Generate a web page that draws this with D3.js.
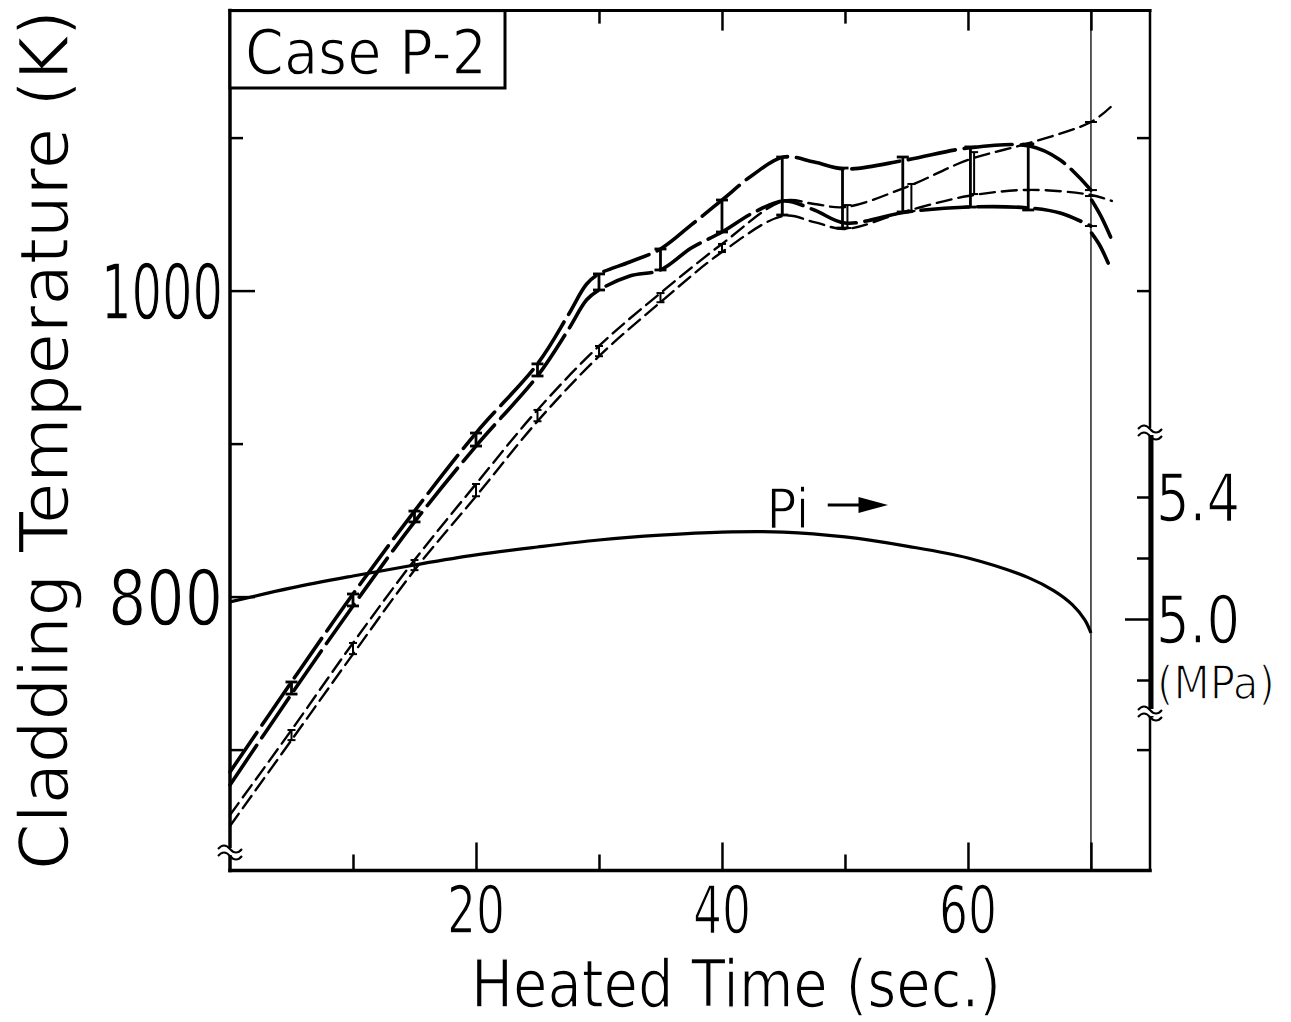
<!DOCTYPE html>
<html><head><meta charset="utf-8">
<script src="https://cdn.jsdelivr.net/npm/d3@7"></script>
<style>
html,body{margin:0;padding:0;background:#fff;}
svg{display:block;}
text{font-family:"Liberation Sans Narrow","DejaVu Sans Condensed",sans-serif;font-weight:normal;fill:#000;stroke:#fff;stroke-width:1.4px;}
</style></head><body>
<svg id="chart" width="1291" height="1022"></svg>
<script>
// ---------- data ----------
const timesAB = [0,5,10,15,20,25,27.5,29,30,32.5,35,37.5,40,42.5,45,47.5,50,55,60,65,67.5,70];
const tempA = [685.4,744.2,801.7,855.9,906.9,952.1,984.1,1004.3,1010.9,1018.7,1027.2,1042.9,1059.2,1075.6,1087.3,1084,1079.5,1085.4,1093.2,1094.5,1085.4,1065.7];
const tempB = [676.9,736.3,793.9,848.8,898.4,944.2,974.4,994,1000.4,1009.5,1013.5,1027.8,1038.3,1050.7,1058.6,1052.7,1044.2,1051.4,1054.6,1054,1050.7,1042.2];
const timesAext = [70.05,70.8,71.6];
const tempAext = [1059.2,1048.8,1035.0];
const timesBext = [70.05,70.7,71.4];
const tempBext = [1037.6,1029.8,1018.0];
const timesC = [0,5,10,15,20,25,30,35,40,45,47.5,50,55,60,65,70,71.6];
const tempC = [657.3,712.8,769.7,823.9,873.6,922,963.8,998.4,1030.5,1058.6,1056.6,1054.6,1067.7,1085.4,1096.5,1110.2,1120];
const timesD = [0,5,10,15,20,25,30,35,40,45,47.5,50,55,60,65,70,71.7];
const tempD = [650.1,706.2,762.4,817.3,865.6,914.6,957.1,992.4,1025.2,1048.8,1044.8,1040.3,1052,1061.8,1065.8,1062.5,1058.6];
const timesP = [0,5,10,15,20,25,30,35,40,45,50,55,60,65,67,68.5,69.5,70];
const pressure = [5.056,5.102,5.141,5.177,5.210,5.236,5.259,5.275,5.285,5.285,5.269,5.239,5.200,5.134,5.092,5.046,4.997,4.954];
// error bars [time, upper T, lower T]
const barsThick = [[5,744.2,736.3],[10,801.7,793.9],[15,855.9,848.8],[20,906.9,898.4],[25,952.1,944.2],[30,1010.9,1000.4],[35,1027.2,1013.5],[40,1059.2,1038.3],[44.9,1087.3,1049.4],[49.8,1080.1,1040.9],[54.7,1087.3,1051.4],[60.2,1093.9,1054.6],[64.9,1095.8,1052.7]];
const barsThin = [[5,712.8,706.2],[10,769.7,762.4],[15,823.9,817.3],[20,873.6,865.6],[25,922,914.6],[30,963.8,957.1],[35,998.4,992.4],[40,1030.5,1025.2],[44.9,1058.6,1049.4],[50.2,1055.9,1040.9],[55.4,1069.7,1052],[60.5,1090.5,1063.1]];
const endCapTime = 70;
const endCapTemps = [1110.2,1065.7,1061.8,1042.2];
const xTicksMajor = [20,40,60,70], xTicksMinor = [10,30,50];
const xTickLabels = [20,40,60];
const yTicksMajor = [800,1000], yTicksMinor = [700,900,1100];
const yTickLabels = [1000,800];
const yRightTicks = [700,1000,1100];
const pTicksMajor = [5.0], pTicksMinor = [4.8,5.2,5.4];
const pTickLabels = ["5.4","5.0"];

// ---------- scales ----------
const svg = d3.select("#chart");
const x = d3.scaleLinear().domain([0,74.8]).range([230,1150]);
const yT = d3.scaleLinear().domain([800,1000]).range([596.6,290.6]);
const yP = d3.scaleLinear().domain([5.0,5.4]).range([619,497]);
const L = x(0), R = x(74.8), T0 = yT(1183), B0 = yT(621);

// ---------- frame ----------
const frame = svg.append("g").attr("stroke","#000").attr("fill","none").attr("stroke-linecap","square");
frame.append("line").attr("x1",L).attr("x2",L).attr("y1",T0).attr("y2",B0).attr("stroke-width",3.5);
frame.append("line").attr("x1",L).attr("x2",R).attr("y1",B0).attr("y2",B0).attr("stroke-width",3.5);
frame.append("line").attr("x1",L).attr("x2",R).attr("y1",T0).attr("y2",T0).attr("stroke-width",3);
frame.append("line").attr("x1",R).attr("x2",R).attr("y1",T0).attr("y2",B0).attr("stroke-width",2.5);
frame.append("line").attr("x1",R+1).attr("x2",R+1).attr("y1",yP(5.6)).attr("y2",yP(4.685)).attr("stroke-width",5);
// vertical line at t = 70
svg.append("line").attr("x1",x(70)).attr("x2",x(70)).attr("y1",T0).attr("y2",B0).attr("stroke","#000").attr("stroke-width",1.3);

// ---------- axes (ticks only, inward) ----------
function ticks(gen, tx, ty){
  const g = svg.append("g").attr("transform",`translate(${tx},${ty})`).call(gen);
  g.select(".domain").remove();
  g.selectAll(".tick line").attr("stroke","#000").attr("stroke-width",2.5);
  g.selectAll(".tick text").remove();
}
ticks(d3.axisRight(yT).tickValues(yTicksMajor).tickSize(25).tickFormat(""), L, 0);
ticks(d3.axisRight(yT).tickValues(yTicksMinor).tickSize(13).tickFormat(""), L, 0);
ticks(d3.axisTop(x).tickValues(xTicksMajor).tickSize(28).tickFormat(""), 0, B0);
ticks(d3.axisTop(x).tickValues(xTicksMinor).tickSize(16).tickFormat(""), 0, B0);
ticks(d3.axisBottom(x).tickValues(xTicksMajor).tickSize(20).tickFormat(""), 0, T0);
ticks(d3.axisBottom(x).tickValues(xTicksMinor).tickSize(13).tickFormat(""), 0, T0);
ticks(d3.axisLeft(yT).tickValues(yRightTicks).tickSize(13).tickFormat(""), R, 0);
ticks(d3.axisLeft(yP).tickValues(pTicksMajor).tickSize(25).tickFormat(""), R, 0);
ticks(d3.axisLeft(yP).tickValues(pTicksMinor).tickSize(13).tickFormat(""), R, 0);

// ---------- axis breaks ----------
function brk(cx, cy){
  const g = svg.append("g");
  g.append("rect").attr("x",cx-4).attr("y",cy-1).attr("width",8).attr("height",7).attr("fill","#fff");
  [0,7].forEach(d=>{
    g.append("path").attr("d",`M${cx-12},${cy+d} q6,-7 12,0 t12,0`).attr("fill","none").attr("stroke","#000").attr("stroke-width",2);
  });
}
brk(L, 849);
brk(R, 429);
brk(R, 710);

// ---------- curves ----------
const line = d3.line().x(d=>x(d[0])).y(d=>yT(d[1])).curve(d3.curveCatmullRom.alpha(0.5));
const zip = (a,b)=>a.map((t,i)=>[t,b[i]]);
function curve(data, w, dash){
  svg.append("path").datum(data).attr("d",line).attr("fill","none").attr("stroke","#000")
    .attr("stroke-width",w).attr("stroke-dasharray",dash).attr("stroke-linecap","round");
}
curve(zip(timesAB,tempA), 3.6, "48,9");
curve(zip(timesAB,tempB), 3.6, "48,9");
curve(zip(timesAext,tempAext), 3.6, null);
curve(zip(timesBext,tempBext), 3.6, null);
curve(zip(timesC,tempC), 2.4, "15,7");
curve(zip(timesD,tempD), 2.4, "15,7");

const pLine = d3.line().x(d=>x(d[0])).y(d=>yP(d[1])).curve(d3.curveCatmullRom.alpha(0.5));
svg.append("path").datum(zip(timesP,pressure)).attr("d",pLine).attr("fill","none").attr("stroke","#000").attr("stroke-width",3.2);

// ---------- error bars ----------
function bars(data, w, hw){
  const g = svg.append("g").attr("stroke","#000").attr("stroke-width",w);
  data.forEach(([t,hi,lo])=>{
    const cx = x(t);
    g.append("line").attr("x1",cx).attr("x2",cx).attr("y1",yT(hi)).attr("y2",yT(lo));
    g.append("line").attr("x1",cx-hw).attr("x2",cx+hw).attr("y1",yT(hi)).attr("y2",yT(hi));
    g.append("line").attr("x1",cx-hw).attr("x2",cx+hw).attr("y1",yT(lo)).attr("y2",yT(lo));
  });
}
bars(barsThick, 2.8, 6);
bars(barsThin, 2, 4);
svg.append("g").attr("stroke","#000").attr("stroke-width",2).selectAll("line").data(endCapTemps).join("line")
  .attr("x1",x(endCapTime)-6).attr("x2",x(endCapTime)+6).attr("y1",d=>yT(d)).attr("y2",d=>yT(d));

// ---------- texts ----------
svg.append("rect").attr("x",L).attr("y",T0).attr("width",505-L).attr("height",88-T0).attr("fill","#fff").attr("stroke","#000").attr("stroke-width",3);
svg.append("text").attr("x",245).attr("y",74).attr("font-size",63).attr("textLength",242).attr("lengthAdjust","spacingAndGlyphs").text("Case P-2");

svg.selectAll(".ylab").data(yTickLabels).join("text").attr("class","ylab")
  .attr("x",223).attr("y",d=>yT(d)+28).attr("text-anchor","end").attr("font-size",77)
  .attr("textLength",d=>d>=1000?122:115).attr("lengthAdjust","spacingAndGlyphs").text(d=>d);
svg.selectAll(".xlab").data(xTickLabels).join("text").attr("class","xlab")
  .attr("x",d=>x(d)).attr("y",933).attr("text-anchor","middle").attr("font-size",66)
  .attr("textLength",58).attr("lengthAdjust","spacingAndGlyphs").text(d=>d);
svg.append("text").attr("x",736).attr("y",1007).attr("text-anchor","middle").attr("font-size",66)
  .attr("textLength",530).attr("lengthAdjust","spacingAndGlyphs").text("Heated Time  (sec.)");
svg.append("text").attr("transform","translate(68,440) rotate(-90)").attr("text-anchor","middle").attr("font-size",68)
  .attr("textLength",860).attr("lengthAdjust","spacingAndGlyphs").text("Cladding  Temperature  (K)");
svg.selectAll(".plab").data(pTickLabels).join("text").attr("class","plab")
  .attr("x",1156).attr("y",d=>yP(+d)+24).attr("font-size",66)
  .attr("textLength",84).attr("lengthAdjust","spacingAndGlyphs").text(d=>d);
svg.append("text").attr("x",1157).attr("y",699).attr("font-size",46).attr("textLength",118).attr("lengthAdjust","spacingAndGlyphs").text("(MPa)");

// Pi label with arrow
svg.append("text").attr("x",x(43.6)).attr("y",yP(5.30)).attr("font-size",56).text("Pi");
const ay = yP(5.374);
svg.append("line").attr("x1",x(48.6)).attr("x2",x(51.5)).attr("y1",ay).attr("y2",ay).attr("stroke","#000").attr("stroke-width",3);
svg.append("path").attr("d",`M${x(51.1)},${ay-8} L${x(53.5)},${ay} L${x(51.1)},${ay+8} Z`).attr("fill","#000");
</script>
</body></html>
